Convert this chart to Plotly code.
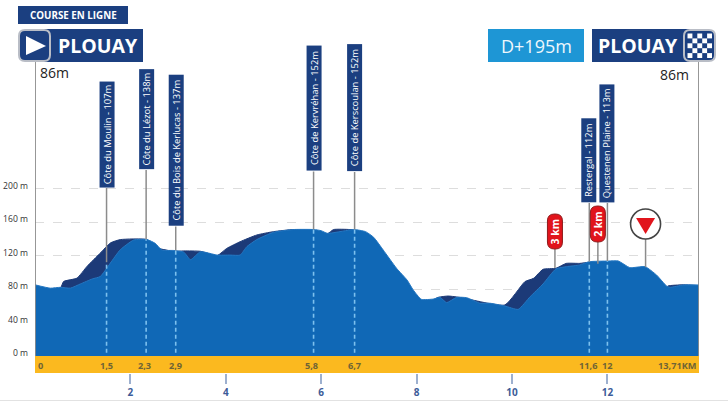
import plotly.graph_objects as go

# --- data ---
front_km = [0, .32, .53, .74, .95, 1.2, 1.37, 1.58, 1.79, 2.07, 2.35, 2.52, 2.66, 2.91, 3.12, 3.26, 3.47, 3.82, 4.09, 4.3,
            4.44, 4.65, 5.0, 5.42, 5.85, 6.0, 6.13, 6.6, 6.7, 6.93, 7.1, 7.3, 7.58, 7.8, 7.93, 8.1, 8.35, 8.49, 8.63, 8.84,
            9.05, 9.33, 9.54, 9.85, 10.13, 10.38, 10.65, 10.92, 11.14, 11.42, 11.62, 12.02, 12.23, 12.47, 12.79, 13.03, 13.24,
            13.31, 13.59, 13.92]
front_m = [85, 81, 82, 81, 86, 92, 95, 111, 127, 138.5, 139, 134.5, 126.5, 126, 124, 115, 124.5, 120.5, 120.5, 120.5,
           130.5, 139, 147.7, 151, 151, 149.6, 146.5, 150.5, 151, 148.5, 141.7, 126.6, 104.7, 90.7, 78.8, 67.7, 68, 70, 63.7, 70,
           69.6, 63, 63, 59.7, 55.7, 70.8, 86, 104, 106.7, 108.7, 112.6, 113.4, 113.4, 105.5, 106.7, 96.7, 83.6,
           82, 84.8, 84.8]
back_km = [0, .53, .6, .88, 1.09, 1.37, 1.58, 1.79, 2.35, 2.5, 2.91, 3.12, 3.47, 3.82, 4.02, 4.3, 4.65, 5.0, 5.42, 5.85,
           6.13, 6.26, 6.6, 6.7, 8.1, 8.45, 8.66, 8.84, 9.0, 9.85, 10.27, 10.45, 10.65, 10.92, 11.14, 11.42, 11.62, 12.0,
           13.2, 13.27, 13.59, 13.92]
back_m = [80, 81, 89, 93, 107, 123, 135, 139, 139, 130, 125, 125.5, 125, 120, 128.5, 136.5, 144.5, 148.5, 151, 150,
          146, 151, 151, 150, 60, 70, 71.6, 70.5, 69, 61, 88.8, 92.7, 103.5, 104.7, 110.6, 110.6, 112, 110,
          80, 83.6, 85, 84]

climb_names = ["Côte du Moulin - 107m", "Côte du Lézot - 138m", "Côte du Bois de Kerlucas - 137m",
               "Côte de Kervréhan - 152m", "Côte de Kerscoulan - 152m", "Restergal - 112m", "Questenen Plaine - 113m"]
climb_km = [1.5, 2.33, 2.95, 5.84, 6.7, 11.62, 12.0]
climb_m = [112, 139, 126, 151, 151, 112.6, 113.4]
band_labels = ["0", "1,5", "2,3", "2,9", "5,8", "6,7", "11,6", "12", "13,71KM"]
band_km = [0.11, 1.5, 2.3, 2.95, 5.8, 6.7, 11.6, 12.0, 13.45]
pill_labels = ["3 km", "2 km"]
pill_km = [10.9, 11.8]
pill_m = [105, 110]
red_km = [12.8]
red_m = [106]
y_ticks = [0, 40, 80, 120, 160, 200]
y_labels = ["0 m", "40 m", "80 m", "120 m", "160 m", "200 m"]
x_ticks = [2, 4, 6, 8, 10, 12]
x_labels = ["2", "4", "6", "8", "10", "12"]

# --- styles / geometry ---
NAVY = "#1b3f80"; BLUE = "#1068b6"; DARK = "#1c3a78"; YEL = "#fbb91f"; GREY = "#8c8c8c"; RED = "#e1141c"
W, H = 728, 401
L, R, B = 35, 29, 28
PW, PH = W - L - R, H - B
def px(p): return (p - L) / PW
def py(p): return (H - B - p) / PH
def ym(p): return (356 - p) / 0.8375
FONT = "Open Sans"

climb_box = [(188, 105), (170, 99), (226.5, 150), (171.5, 124), (172, 126), (203, 83), (203, 117)]
pill_box = [(214, 249), (206, 242)]

fig = go.Figure()
fig.add_trace(go.Scatter(x=back_km, y=back_m, mode="lines", fill="tozeroy", fillcolor=DARK, line=dict(color=DARK, width=1, shape="spline", smoothing=0.5), hoverinfo="skip"))
fig.add_trace(go.Scatter(x=front_km, y=front_m, mode="lines", fill="tozeroy", fillcolor=BLUE, line=dict(color="#2477c2", width=1, shape="spline", smoothing=0.5), hoverinfo="skip"))

def vline(x, y0, y1, color=GREY, width=1.5, dash=None):
    fig.add_trace(go.Scatter(x=[x, x], y=[y0, y1], mode="lines", cliponaxis=False, hoverinfo="skip",
                             line=dict(color=color, width=width, dash=dash)))

# start / finish posts
vline(0, 0, ym(62), width=1.8)
vline(front_km[-1], 0, ym(62), width=1.8)

ann = []; shp = []
for name, k, m, (bot, ln) in zip(climb_names, climb_km, climb_m, climb_box):
    vline(k, m, ym(bot))
    vline(k, 4, m, color="#7cc0ee", dash="4px,3px", width=1.6)
    ann.append(dict(x=k, xref="x", y=py(bot), yref="paper", yanchor="bottom", xanchor="center", text=name, textangle=-90,
                    showarrow=False, width=ln, height=14, bgcolor=NAVY, borderpad=0, align="center",
                    font=dict(family=FONT, size=9.4, color="white")))

def rrect(x0, y0, x1, y1, r):
    X = lambda p: px(p); Y = lambda p: py(p)
    return (f"M{X(x0+r)},{Y(y0)} L{X(x1-r)},{Y(y0)} Q{X(x1)},{Y(y0)} {X(x1)},{Y(y0+r)} L{X(x1)},{Y(y1-r)} "
            f"Q{X(x1)},{Y(y1)} {X(x1-r)},{Y(y1)} L{X(x0+r)},{Y(y1)} Q{X(x0)},{Y(y1)} {X(x0)},{Y(y1-r)} "
            f"L{X(x0)},{Y(y0+r)} Q{X(x0)},{Y(y0)} {X(x0+r)},{Y(y0)} Z")
def path(d, fill, line=None, w=0):
    shp.append(dict(type="path", xref="paper", yref="paper", path=d, fillcolor=fill, line=dict(color=line or fill, width=w)))
def rect(x0, y0, x1, y1, fill):
    shp.append(dict(type="rect", xref="paper", yref="paper", x0=px(x0), x1=px(x1), y0=py(y0), y1=py(y1), fillcolor=fill, line=dict(width=0)))
def text(cx, cy, s, size, color="white", bold=True, anchor="center", family=FONT, angle=0):
    ann.append(dict(x=px(cx), y=py(cy), xref="paper", yref="paper", text=f"<b>{s}</b>" if bold else s, showarrow=False,
                    xanchor=anchor, yanchor="middle", textangle=angle, font=dict(family=family, size=size, color=color)))

# yellow km band
shp.append(dict(type="rect", xref="x", yref="y", x0=0, x1=front_km[-1], y0=0, y1=-20.3, fillcolor=YEL, line=dict(width=0), layer="above"))
for s, k in zip(band_labels, band_km):
    ann.append(dict(x=k, y=-11, xref="x", yref="y", text=f"<b>{s}</b>", showarrow=False, font=dict(family=FONT, size=9.2, color="#6f6436")))

# header left
rect(18, 6, 128, 24, NAVY)
text(73, 15.5, "COURSE EN LIGNE", 9.8)
rect(30, 29, 143, 62, NAVY)
path(rrect(19, 30, 50, 61, 6), NAVY, "#b9bdc6", 2)
path(f"M{px(26)},{py(36)} L{px(46)},{py(46)} L{px(26)},{py(55)} Z", "white")
text(97.5, 46, "PLOUAY", 19.5)
text(38, 72, "86m", 14, color="#222222", anchor="left", bold=False)

# header right
rect(488, 29, 584, 62, "#1e96d5")
text(536, 46, "D+195m", 18, bold=False, color="#eef7fc")
rect(592, 29, 690, 62, NAVY)
text(638, 46, "PLOUAY", 19.5)
text(674, 74, "86m", 14, color="#222222", bold=False)
path(rrect(684, 30, 715, 61, 6), NAVY, "#b9bdc6", 2)
for r_ in range(5):
    for c_ in range(5):
        if (r_ + c_) % 2 == 0:
            x0 = 687.5 + c_ * 4.9; y0 = 33.5 + r_ * 4.9
            rect(x0, y0, x0 + 4.9, y0 + 4.9, "white")

# red km pills
for s, k, m, (top, bot) in zip(pill_labels, pill_km, pill_m, pill_box):
    vline(k, m, ym(bot))
    cx = L + k * PW / front_km[-1]
    path(rrect(cx - 7.5, top, cx + 7.5, bot, 7), RED, "#8e1b1b", 1)
    text(cx, (top + bot) / 2, s, 10.5, angle=-90)

# last-kilometre flag
for k, m in zip(red_km, red_m):
    vline(k, m, ym(239))
    cx = L + k * PW / front_km[-1]
    shp.append(dict(type="circle", xref="paper", yref="paper", x0=px(cx - 15), x1=px(cx + 15), y0=py(224 + 15), y1=py(224 - 15),
                    fillcolor="white", line=dict(color="#444444", width=1.6)))
    path(f"M{px(cx-9.5)},{py(218)} L{px(cx+9.5)},{py(218)} L{px(cx)},{py(234)} Z", RED)

shp.append(dict(type="line", xref="paper", yref="paper", x0=px(0), x1=px(W), y0=py(400.5), y1=py(400.5), line=dict(color="#e2e2e2", width=1)))

fig.update_layout(
    width=W, height=H, margin=dict(l=L, r=R, t=0, b=B, pad=0), paper_bgcolor="white", plot_bgcolor="white",
    showlegend=False, shapes=shp, annotations=ann,
    xaxis=dict(range=[0, front_km[-1]], tickmode="array", tickvals=x_ticks, ticktext=[f"<b>{t}</b>" for t in x_labels],
               ticks="outside", ticklen=10, tickwidth=1.5, tickcolor="#9db0cf", showgrid=False, zeroline=False, showline=False,
               tickfont=dict(family=FONT, size=10, color="#3d5c99")),
    yaxis=dict(range=[-20.3, ym(0)], tickmode="array", tickvals=y_ticks, ticktext=y_labels, ticks="", showline=False, zeroline=False,
               showgrid=True, gridcolor="#dddddd", griddash="dash", gridwidth=1, ticklabelstandoff=6, ticklabelshift=-3,
               tickfont=dict(family=FONT, size=8.6, color="#333333")),
)
fig.write_html("out.html", config=dict(displayModeBar=False),
               post_script="document.body.style.margin='0';document.body.style.overflow='hidden';")
